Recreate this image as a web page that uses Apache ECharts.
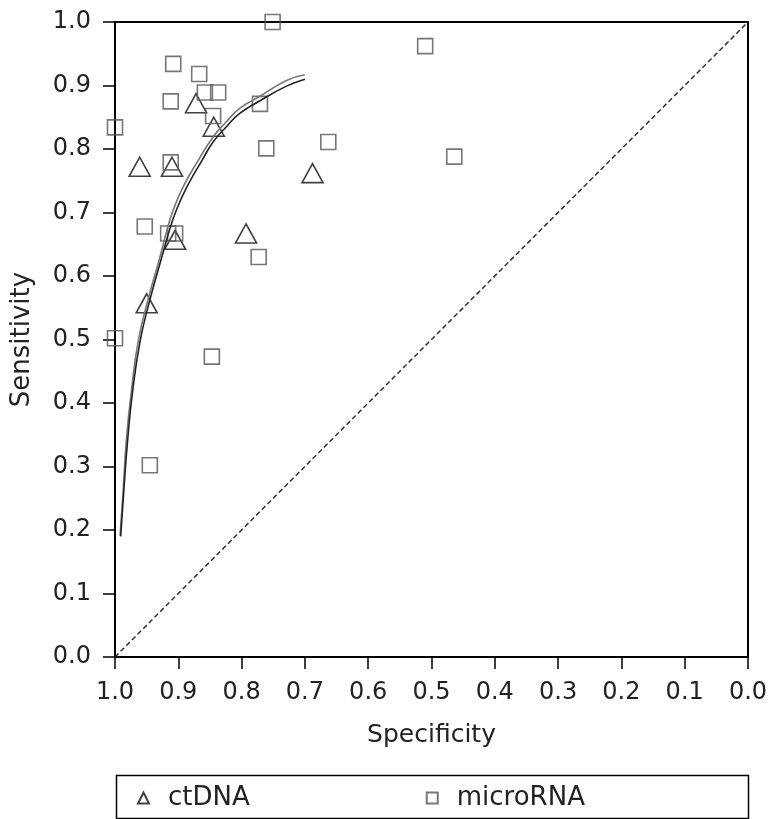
<!DOCTYPE html>
<html>
<head>
<meta charset="utf-8">
<script src="https://cdn.jsdelivr.net/npm/echarts@6/dist/echarts.min.js"></script>
<style>
  html, body { margin: 0; padding: 0; background: #fff; }
  #main { width: 771px; height: 819px; }
</style>
</head>
<body>
<div id="main"></div>
<script>
// [specificity, sensitivity]
var ctDNA = [
  [0.872, 0.872], [0.844, 0.835], [0.961, 0.772], [0.910, 0.772],
  [0.688, 0.762], [0.793, 0.667], [0.905, 0.657], [0.950, 0.557]
];
var microRNA = [
  [0.751, 1.000], [0.908, 0.934], [0.867, 0.918], [0.912, 0.875],
  [0.858, 0.889], [0.837, 0.889], [0.771, 0.871], [0.845, 0.852],
  [1.000, 0.834], [0.761, 0.801], [0.663, 0.811], [0.912, 0.779],
  [0.953, 0.678], [0.916, 0.667], [0.905, 0.667], [0.773, 0.630],
  [1.000, 0.502], [0.847, 0.473], [0.945, 0.302], [0.510, 0.962],
  [0.464, 0.788]
];
// the two summary curves
var curveUpper = [
  [0.992, 0.191], [0.987, 0.263], [0.982, 0.342], [0.974, 0.420],
  [0.963, 0.499], [0.948, 0.562], [0.929, 0.630], [0.918, 0.672],
  [0.908, 0.704], [0.892, 0.741], [0.868, 0.783], [0.845, 0.819],
  [0.824, 0.843], [0.803, 0.864], [0.771, 0.883], [0.729, 0.908],
  [0.700, 0.917]
];
var curveLower = [
  [0.991, 0.190], [0.986, 0.263], [0.980, 0.342], [0.972, 0.420],
  [0.960, 0.499], [0.945, 0.562], [0.926, 0.630], [0.914, 0.672],
  [0.903, 0.704], [0.886, 0.741], [0.862, 0.783], [0.845, 0.811],
  [0.824, 0.835], [0.803, 0.856], [0.771, 0.876], [0.729, 0.899],
  [0.700, 0.910]
];
var diagonal = [[1, 0], [0, 1]];

var myChart = echarts.init(document.getElementById('main'));
var font = 'DejaVu Sans';

var option = {
  backgroundColor: '#fff',
  animation: false,
  grid: {
    left: 115, right: 23, top: 22, bottom: 162,
    show: true, borderColor: '#000', borderWidth: 2,
    outerBoundsMode: 'none'
  },
  xAxis: {
    type: 'value', min: 0, max: 1, interval: 0.1, inverse: true,
    name: 'Specificity', nameLocation: 'middle', nameGap: 66,
    nameTextStyle: { fontFamily: font, fontSize: 25, color: '#222' },
    axisLine: { onZero: false, lineStyle: { color: '#000', width: 2 } },
    axisTick: { show: true, inside: false, length: 12, lineStyle: { color: '#000', width: 1.5 } },
    axisLabel: {
      margin: 24, fontFamily: font, fontSize: 24, color: '#222',
      formatter: function (v) { return v.toFixed(1); }
    },
    splitLine: { show: false }
  },
  yAxis: {
    type: 'value', min: 0, max: 1, interval: 0.1,
    name: 'Sensitivity', nameLocation: 'middle', nameGap: 80,
    nameTextStyle: { fontFamily: font, fontSize: 26, color: '#222' },
    axisLine: { onZero: false, lineStyle: { color: '#000', width: 2 } },
    axisTick: { show: true, inside: false, length: 12, lineStyle: { color: '#000', width: 1.5 } },
    axisLabel: {
      margin: 24, fontFamily: font, fontSize: 24, color: '#222',
      formatter: function (v) { return v.toFixed(1); }
    },
    splitLine: { show: false }
  },
  legend: {
    data: ['ctDNA', 'microRNA'],
    left: 132, top: 780,
    itemWidth: 11, itemHeight: 11, itemGap: 176,
    textStyle: { fontFamily: font, fontSize: 26, color: '#222', padding: [0, 0, 0, 14] }
  },
  graphic: [{
    type: 'rect',
    left: 114, top: 773,
    shape: { width: 632, height: 43 },
    style: { fill: 'none', stroke: '#000', lineWidth: 1.5 },
    silent: true
  }],
  series: [
    {
      name: 'diagonal', type: 'line', data: diagonal,
      showSymbol: false, silent: true,
      lineStyle: { color: '#333', width: 1.5, type: [5, 3] }
    },
    {
      name: 'curveUpper', type: 'line', data: curveUpper,
      showSymbol: false, smooth: true, silent: true,
      lineStyle: { color: '#777', width: 1.6 }
    },
    {
      name: 'curveLower', type: 'line', data: curveLower,
      showSymbol: false, smooth: true, silent: true,
      lineStyle: { color: '#222', width: 1.6 }
    },
    {
      name: 'ctDNA', type: 'scatter', data: ctDNA, clip: false,
      symbol: 'triangle', symbolSize: [21, 19],
      itemStyle: { color: 'rgba(0,0,0,0)', borderColor: '#111', borderWidth: 1.6 }
    },
    {
      name: 'microRNA', type: 'scatter', data: microRNA, clip: false,
      symbol: 'rect', symbolSize: 15,
      itemStyle: { color: 'rgba(0,0,0,0)', borderColor: '#555', borderWidth: 1.6 }
    }
  ]
};

myChart.setOption(option);
</script>
</body>
</html>
